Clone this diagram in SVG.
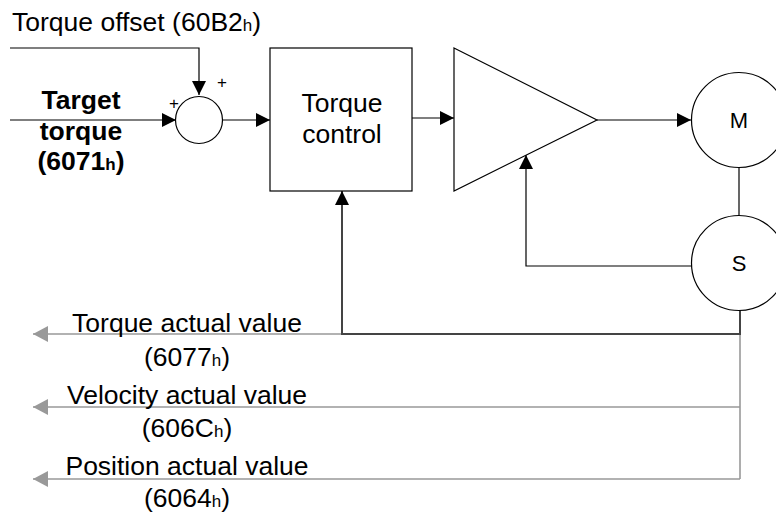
<svg xmlns="http://www.w3.org/2000/svg" width="776" height="512" viewBox="0 0 776 512">
<defs>
<style>
text{font-family:"Liberation Sans",Arial,sans-serif;font-size:26.5px;fill:#000}
.b{font-weight:bold}
.s{font-size:17px}
.m{text-anchor:middle}
.ln{fill:none;stroke:#000;stroke-width:1.2}
.dk{fill:none;stroke:#444;stroke-width:2}
.gr{fill:none;stroke:#999;stroke-width:1.6}
.sh{fill:#fff;stroke:#000;stroke-width:1.2}
.pl{font-size:17px}
.big{font-size:22px}
</style>
<marker id="a" viewBox="0 0 14 14" refX="14" refY="7" markerWidth="14" markerHeight="14" markerUnits="userSpaceOnUse" orient="auto"><path d="M0,0L14,7L0,14z" fill="#000"/></marker>
<marker id="g" viewBox="0 0 15 16" refX="15" refY="8" markerWidth="15" markerHeight="16" markerUnits="userSpaceOnUse" orient="auto"><path d="M0,0L15,8L0,16z" fill="#999"/></marker>
</defs>
<g id="connectors">
<path class="ln" d="M10,48H199V95" marker-end="url(#a)"/>
<path class="ln" d="M10,120H176" marker-end="url(#a)"/>
<path class="ln" d="M223,120H270" marker-end="url(#a)"/>
<path class="ln" d="M412,118H454" marker-end="url(#a)"/>
<path class="ln" d="M597,120H691" marker-end="url(#a)"/>
<path class="ln" d="M739,168V215"/>
<path class="ln" d="M692,266H526V155" marker-end="url(#a)"/>
<path class="gr" d="M740,334H33" marker-end="url(#g)"/>
<path class="gr" d="M740,334V479"/>
<path class="gr" d="M740,407H33" marker-end="url(#g)"/>
<path class="gr" d="M740,479H33" marker-end="url(#g)"/>
<path class="dk" d="M740,310V334H342V191" marker-end="url(#a)"/>
</g>
<g id="offset-label"><text x="12" y="31">Torque offset (60B2<tspan class="s">h</tspan>)</text></g>
<g id="target-label">
<text class="b m" x="81" y="109">Target</text>
<text class="b m" x="81" y="140">torque</text>
<text class="b m" x="81" y="170">(6071<tspan class="s">h</tspan>)</text>
</g>
<g id="sum">
<circle class="sh" cx="199" cy="120" r="23.5"/>
<text class="pl m" x="222" y="88">+</text>
<text class="pl m" x="174" y="109">+</text>
</g>
<g id="torque-control">
<rect class="sh" x="270" y="48" width="142" height="143"/>
<text class="m" x="342" y="112">Torque</text>
<text class="m" x="342" y="143">control</text>
</g>
<g id="amplifier"><path class="sh" d="M454,48L597,120L454,191z"/></g>
<g id="motor">
<circle class="sh" cx="739" cy="120" r="47.5"/>
<text class="m big" x="739" y="128">M</text>
</g>
<g id="sensor">
<circle class="sh" cx="739" cy="263" r="47.5"/>
<text class="m big" x="739" y="271">S</text>
</g>
<g id="feedback-labels">
<text class="m" x="187" y="332">Torque actual value</text>
<text class="m" x="187" y="366">(6077<tspan class="s">h</tspan>)</text>
<text class="m" x="187" y="404">Velocity actual value</text>
<text class="m" x="187" y="437">(606C<tspan class="s">h</tspan>)</text>
<text class="m" x="187" y="475">Position actual value</text>
<text class="m" x="187" y="507">(6064<tspan class="s">h</tspan>)</text>
</g>
</svg>
